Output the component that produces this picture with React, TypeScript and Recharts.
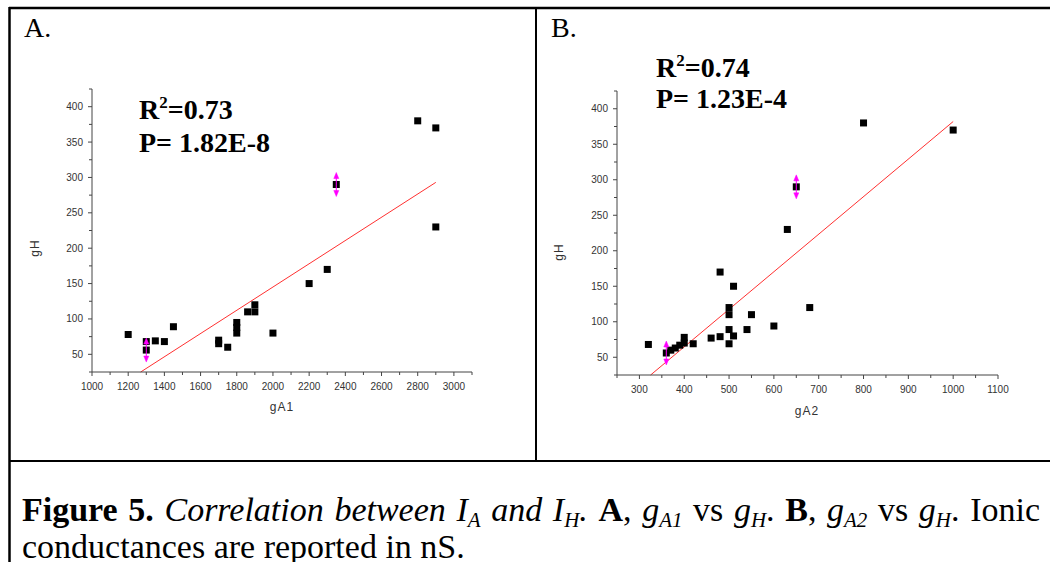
import React from 'react';
import { ScatterChart, Scatter, XAxis, YAxis, ReferenceLine } from 'recharts';

// panel A: gA1 vs gH
const gA1 = [1200, 1300, 1300, 1350, 1400, 1450, 1700, 1700, 1750, 1800, 1800, 1800, 1860, 1900, 1900, 2000, 2200, 2300, 2350, 2800, 2900, 2900];
const gH_A = [78, 68, 56, 69, 68, 89, 70, 65, 60, 95, 88, 80, 110, 120, 110, 80, 150, 170, 290, 380, 370, 230];
const markedA1 = [1300, 2350];
const markedH_A = [56, 290];
const fitA1 = [1269, 2900];
const fitH_A = [25, 293];

// panel B: gA2 vs gH
const gA2 = [320, 360, 370, 380, 390, 400, 400, 420, 460, 480, 480, 500, 500, 500, 500, 510, 510, 540, 550, 600, 630, 650, 680, 800, 1000];
const gH_B = [68, 56, 60, 63, 67, 78, 70, 69, 77, 79, 170, 120, 110, 89, 69, 150, 80, 89, 110, 94, 230, 290, 120, 380, 370];
const markedA2 = [360, 650];
const markedH_B = [56, 290];
const fitA2 = [325, 1000];
const fitH_B = [25, 382];

const xTicksA = [1000, 1100, 1200, 1300, 1400, 1500, 1600, 1700, 1800, 1900, 2000, 2100, 2200, 2300, 2400, 2500, 2600, 2700, 2800, 2900, 3000, 3100];
const xTicksB = [250, 300, 350, 400, 450, 500, 550, 600, 650, 700, 750, 800, 850, 900, 950, 1000, 1050, 1100];
const yTicks = [25, 50, 75, 100, 125, 150, 175, 200, 225, 250, 275, 300, 325, 350, 375, 400, 425];

const AXIS = '#444';
const SANS = '"Liberation Sans", Arial, sans-serif';
const SERIF = '"Liberation Serif", "Times New Roman", serif';

const toPoints = (xs: number[], ys: number[]) => xs.map((x, i) => ({ x, y: ys[i] }));

const xTick = (major: number) => (props: any) => {
  const { x, y, payload } = props;
  const isMajor = payload.value % major === 0;
  return (
    <g>
      <line x1={x} y1={y} x2={x} y2={y + (isMajor ? 4 : 3)} stroke={AXIS} />
      {isMajor && (
        <text x={x} y={y + 18} textAnchor="middle" fontSize={10} fill="#333" fontFamily={SANS}>
          {payload.value}
        </text>
      )}
    </g>
  );
};

const yTick = (props: any) => {
  const { x, y, payload } = props;
  const isMajor = payload.value % 50 === 0;
  return (
    <g>
      <line x1={x} y1={y} x2={x - (isMajor ? 4 : 3)} y2={y} stroke={AXIS} />
      {isMajor && (
        <text x={x - 9} y={y + 3.5} textAnchor="end" fontSize={10} fill="#333" fontFamily={SANS}>
          {payload.value}
        </text>
      )}
    </g>
  );
};

const square = (p: any) => <rect x={p.cx - 3.5} y={p.cy - 3.5} width={7} height={7} fill="#000" />;

const arrow = (p: any) => {
  const { cx, cy } = p;
  return (
    <g fill="#ff00ff" stroke="#ff00ff">
      <line x1={cx} y1={cy - 10} x2={cx} y2={cy + 10} strokeWidth={1} />
      <path d={`M${cx},${cy - 12} L${cx - 2.5},${cy - 6} L${cx + 2.5},${cy - 6} Z`} strokeWidth={0.5} />
      <path d={`M${cx},${cy + 12} L${cx - 2.5},${cy + 6} L${cx + 2.5},${cy + 6} Z`} strokeWidth={0.5} />
    </g>
  );
};

interface PanelProps {
  xs: number[];
  ys: number[];
  mx: number[];
  my: number[];
  fitX: number[];
  fitY: number[];
  xDomain: [number, number];
  xTicks: number[];
  major: number;
  width: number;
  margin: { top: number; right: number; bottom: number; left: number };
}

const Panel: React.FC<PanelProps> = ({ xs, ys, mx, my, fitX, fitY, xDomain, xTicks, major, width, margin }) => (
  <ScatterChart width={width} height={460} margin={margin}>
    <XAxis
      type="number"
      dataKey="x"
      domain={xDomain}
      ticks={xTicks}
      interval={0}
      stroke={AXIS}
      tickLine={false}
      tickSize={0}
      tickMargin={0}
      height={40}
      tick={xTick(major)}
    />
    <YAxis
      type="number"
      dataKey="y"
      domain={[25, 425]}
      ticks={yTicks}
      interval={0}
      stroke={AXIS}
      tickLine={false}
      tickSize={0}
      tickMargin={0}
      width={60}
      tick={yTick}
    />
    <ReferenceLine
      segment={[{ x: fitX[0], y: fitY[0] }, { x: fitX[1], y: fitY[1] }]}
      stroke="#ff3030"
      strokeWidth={1}
      ifOverflow="visible"
    />
    <Scatter data={toPoints(xs, ys)} shape={square} isAnimationActive={false} />
    <Scatter data={toPoints(mx, my)} shape={arrow} isAnimationActive={false} />
  </ScatterChart>
);

const sub: React.CSSProperties = { fontSize: 21, verticalAlign: -6, lineHeight: 0, fontStyle: 'italic' };

const App: React.FC = () => {
  return (
    <div style={{ position: 'absolute', left: 0, top: 0, width: 1050, height: 562, background: '#fff', overflow: 'hidden' }}>
      <div style={{ position: 'absolute', left: 0, top: 0 }}>
        <Panel
          xs={gA1} ys={gH_A} mx={markedA1} my={markedH_A} fitX={fitA1} fitY={fitH_A}
          xDomain={[1000, 3100]} xTicks={xTicksA} major={200} width={535}
          margin={{ top: 89, right: 63, bottom: 48, left: 32 }}
        />
      </div>
      <div style={{ position: 'absolute', left: 535, top: 0 }}>
        <Panel
          xs={gA2} ys={gH_B} mx={markedA2} my={markedH_B} fitX={fitA2} fitY={fitH_B}
          xDomain={[250, 1100]} xTicks={xTicksB} major={100} width={515}
          margin={{ top: 91, right: 52, bottom: 45, left: 22 }}
        />
      </div>
      <svg width={1050} height={562} style={{ position: 'absolute', left: 0, top: 0, pointerEvents: 'none' }}>
        {/* table borders */}
        <line x1={9} y1={8} x2={1050} y2={8} stroke="#000" strokeWidth={2.5} />
        <line x1={9.5} y1={7} x2={9.5} y2={562} stroke="#000" strokeWidth={2.5} />
        <line x1={536} y1={7} x2={536} y2={461} stroke="#000" strokeWidth={2} />
        <line x1={9} y1={461} x2={1050} y2={461} stroke="#000" strokeWidth={2} />

        <text x={24} y={37} fontSize={28} fontFamily={SERIF}>A.</text>
        <text x={551} y={37} fontSize={28} fontFamily={SERIF}>B.</text>

        <g fontFamily={SERIF} fontWeight="bold" fontSize={28}>
          <text x={139} y={119}>R<tspan fontSize={17} dy={-11}>2</tspan><tspan dy={11}>=0.73</tspan></text>
          <text x={139} y={152}>P= 1.82E-8</text>
          <text x={656} y={77}>R<tspan fontSize={17} dy={-11}>2</tspan><tspan dy={11}>=0.74</tspan></text>
          <text x={656} y={108}>P= 1.23E-4</text>
        </g>

        <g fontFamily={SANS} fontSize={12} fill="#333" letterSpacing={1}>
          <text x={282} y={411} textAnchor="middle">gA1</text>
          <text x={807} y={415} textAnchor="middle">gA2</text>
          <text x={39} y={248} textAnchor="middle" transform="rotate(-90 39 248)">gH</text>
          <text x={563} y={252} textAnchor="middle" transform="rotate(-90 563 252)">gH</text>
        </g>
      </svg>
      <div
        style={{
          position: 'absolute', left: 22, top: 491, width: 1018,
          fontFamily: SERIF, fontSize: 34, lineHeight: '37px', textAlign: 'justify', color: '#000',
        }}
      >
        <b>Figure 5.</b> <i>Correlation between I<span style={sub}>A</span> and I<span style={sub}>H</span>.</i>{' '}
        <b>A</b>, <i>g</i><span style={sub}>A1</span> vs <i>g</i><span style={sub}>H</span>.{' '}
        <b>B</b>, <i>g</i><span style={sub}>A2</span> vs <i>g</i><span style={sub}>H</span>. Ionic conductances are reported in nS.
      </div>
    </div>
  );
};

export default App;
